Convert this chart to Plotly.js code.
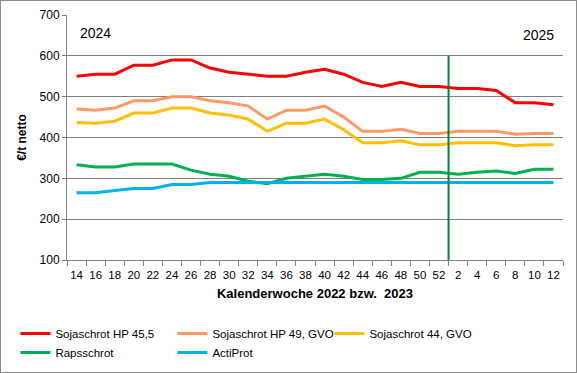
<!DOCTYPE html>
<html>
<head>
<meta charset="utf-8">
<script src="https://cdn.plot.ly/plotly-3.0.1.min.js"></script>
<style>
html,body{margin:0;padding:0;background:#fff;}
#frame{width:577px;height:373px;box-sizing:border-box;border:1px solid #8c8c8c;overflow:hidden;}
#chart{width:575px;height:371px;}
</style>
</head>
<body>
<div id="frame"><div id="chart"></div></div>
<script>
const weeks = ["14","16","18","20","22","24","26","28","30","32","34","36","38","40","42","44","46","48","50","52","2","4","6","8","10","12"];
const sojaHP455 = [550,555,555,577,577,590,590,570,560,555,550,550,560,567,555,535,525,535,525,525,520,520,515,485,485,480];
const sojaHP49  = [470,467,472,490,490,500,500,490,485,477,445,467,467,477,450,415,415,420,410,410,415,415,415,408,410,410];
const soja44    = [437,435,440,460,460,472,472,460,455,445,415,435,435,445,419,387,387,392,382,382,387,387,387,380,382,382];
const raps      = [333,328,328,335,335,335,320,310,305,293,287,300,305,310,305,297,297,300,315,315,310,315,318,312,322,322];
const actiProt  = [265,265,270,275,275,285,285,290,290,290,290,290,290,290,290,290,290,290,290,290,290,290,290,290,290,290];
const seriesNames = ["Sojaschrot HP 45,5","Sojaschrot HP 49, GVO","Sojaschrot 44, GVO","Rapsschrot","ActiProt"];
const seriesColors = ["#FF0000","#FF9966","#FFC000","#00B050","#00B0F0"];
const yearLabels = ["2024","2025"];
const lastWeekOfYear = "52";
const yearBreakTop = 600;

const allSeries = [sojaHP455, sojaHP49, soja44, raps, actiProt];
const traces = allSeries.map((ys, i) => ({
  x: weeks, y: ys, type: "scatter", mode: "lines", name: seriesNames[i],
  line: {color: seriesColors[i], width: 3}
}));

const breakX = weeks.indexOf(lastWeekOfYear) + 0.5;
const font = {family: "Liberation Sans, Arial, sans-serif", color: "#000"};

const layout = {
  width: 575, height: 371,
  margin: {l: 66, r: 13, t: 14, b: 112, autoexpand: false},
  paper_bgcolor: "#fff", plot_bgcolor: "#fff",
  font: Object.assign({size: 12}, font),
  showlegend: true,
  xaxis: {
    type: "category", tickson: "boundaries", ticks: "outside", ticklen: 5, tickcolor: "#808080",
    showline: true, linecolor: "#808080", linewidth: 1, showgrid: false, zeroline: false,
    tickangle: 0, ticklabelstandoff: 4,
    tickfont: Object.assign({size: 11.5}, font), range: [-0.5, weeks.length - 0.5],
    title: {text: "<b>Kalenderwoche 2022 bzw.  2023</b>", font: Object.assign({size: 13}, font), standoff: 9}
  },
  yaxis: {
    range: [100, 700], dtick: 100, ticks: "outside", ticklen: 4, tickcolor: "#808080",
    showline: true, linecolor: "#808080", linewidth: 1,
    showgrid: true, gridcolor: "#808080", gridwidth: 1, zeroline: false,
    tickfont: Object.assign({size: 12}, font),
    title: {text: "<b>€/t netto</b>", font: Object.assign({size: 12}, font), standoff: 10}
  },
  legend: {
    orientation: "h", xref: "container", yref: "container",
    x: 0.025, xanchor: "left", y: 0.143, yanchor: "top",
    entrywidth: 112, entrywidthmode: "pixels", itemwidth: 30,
    font: Object.assign({size: 11.5}, font), tracegroupgap: 0
  },
  shapes: [{
    type: "line", xref: "x", yref: "y", x0: breakX, x1: breakX, y0: 100, y1: yearBreakTop,
    line: {color: "#00843D", width: 2}
  }],
  annotations: [
    {text: yearLabels[0], xref: "paper", yref: "y", x: 0.058, y: 656, xanchor: "center", showarrow: false, font: Object.assign({size: 14}, font)},
    {text: yearLabels[1], xref: "paper", yref: "y", x: 0.95, y: 651, xanchor: "center", showarrow: false, font: Object.assign({size: 14}, font)}
  ]
};

Plotly.newPlot("chart", traces, layout, {displayModeBar: false, staticPlot: true});
</script>
</body>
</html>
